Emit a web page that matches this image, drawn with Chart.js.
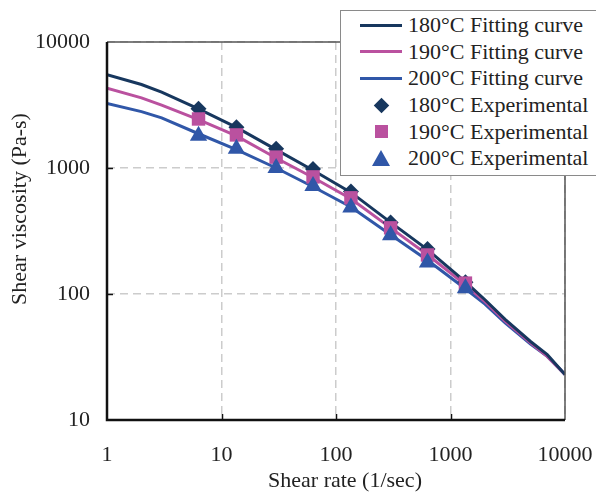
<!DOCTYPE html>
<html>
<head>
<meta charset="utf-8">
<script src="https://cdn.jsdelivr.net/npm/chart.js@4.4.1/dist/chart.umd.min.js"></script>
<style>
  html, body { margin: 0; padding: 0; background: #fff; }
  #wrap { position: relative; width: 596px; height: 495px; overflow: hidden; }
  #legend {
    position: absolute; left: 340px; top: 10px; width: 280px; height: 166px;
    box-sizing: border-box; background: #fff; border: 1.5px solid #8a8a8a;
    font-family: "Liberation Serif"; font-size: 22px; color: #222; padding-top: 1px;
  }
  .row { height: 26.6px; display: flex; align-items: center; white-space: nowrap; }
  .sym { width: 42px; margin-left: 19px; margin-right: 6px; display: flex; justify-content: center; align-items: center; }
  .line { width: 42px; height: 3px; }
  .diamond { width: 11px; height: 11px; transform: rotate(45deg); }
  .square { width: 13px; height: 13px; }
  .triangle { width: 0; height: 0; border-left: 9px solid transparent; border-right: 9px solid transparent; }
</style>
</head>
<body>
<div id="wrap">
  <canvas id="viscosityChart" width="596" height="495"></canvas>
  <div id="legend"></div>
</div>
<script>
const fitShearRate = [1, 2, 3, 6.3, 13.5, 30, 63, 135, 300, 630, 1350, 2000, 3000, 5000, 7000, 10000];
const fit180 = [5500, 4600, 4000, 2950, 2100, 1400, 960, 640, 370, 225, 125, 90, 63, 42, 33, 23];
const fit190 = [4300, 3600, 3150, 2420, 1800, 1200, 840, 570, 335, 205, 118, 87, 61, 41, 32, 23];
const fit200 = [3250, 2800, 2500, 1870, 1400, 1000, 710, 490, 295, 185, 110, 83, 59, 40, 32, 23];

const expShearRate = [6.3, 13.5, 30, 63, 135, 300, 630, 1350];
const exp180 = [2950, 2110, 1420, 980, 650, 370, 228, 124];
const exp190 = [2450, 1830, 1220, 850, 580, 335, 204, 122];
const exp200 = [1800, 1420, 1000, 720, 485, 292, 178, 111];

const xTicks = [1, 10, 100, 1000, 10000];
const yTicks = [10, 100, 1000, 10000];

const colors = { c180: "#17375e", c190: "#ba519f", c200: "#3057a8" };

function toPoints(xs, ys) {
  return xs.map((x, i) => ({ x: x, y: ys[i] }));
}

function fitDataset(label, ys, color) {
  return {
    label: label,
    data: toPoints(fitShearRate, ys),
    borderColor: color,
    backgroundColor: color,
    borderWidth: 3,
    pointRadius: 0,
    tension: 0,
    order: 10,
    kind: "line"
  };
}

function expDataset(label, ys, color, style, radius, order) {
  return {
    label: label,
    data: toPoints(expShearRate, ys),
    showLine: false,
    borderColor: color,
    backgroundColor: color,
    borderWidth: 0,
    pointStyle: style,
    pointRadius: radius,
    order: order,
    kind: style
  };
}

const framePlugin = {
  id: "frame",
  afterDatasetsDraw(chart) {
    const { ctx, chartArea: a, scales } = chart;
    ctx.save();
    ctx.strokeStyle = "#111";
    ctx.lineWidth = 1.5;
    xTicks.slice(1, -1).forEach((v) => {
      const px = Math.round(scales.x.getPixelForValue(v)) + 0.5;
      ctx.beginPath(); ctx.moveTo(px, a.bottom); ctx.lineTo(px, a.bottom - 6); ctx.stroke();
    });
    yTicks.slice(1, -1).forEach((v) => {
      const py = Math.round(scales.y.getPixelForValue(v)) + 0.5;
      ctx.beginPath(); ctx.moveTo(a.left, py); ctx.lineTo(a.left + 6, py); ctx.stroke();
    });
    ctx.strokeStyle = "#555";
    ctx.lineWidth = 1.5;
    ctx.beginPath();
    ctx.moveTo(a.left, a.top); ctx.lineTo(a.right, a.top); ctx.lineTo(a.right, a.bottom);
    ctx.stroke();
    ctx.strokeStyle = "#111";
    ctx.lineWidth = 2.5;
    ctx.beginPath();
    ctx.moveTo(a.left, a.top); ctx.lineTo(a.left, a.bottom); ctx.lineTo(a.right, a.bottom);
    ctx.stroke();
    ctx.restore();
  },
  afterDraw(chart) {
    const { ctx } = chart;
    ctx.save();
    ctx.fillStyle = "#222";
    ctx.font = "22px 'Liberation Serif'";
    ctx.textAlign = "center";
    ctx.textBaseline = "middle";
    ctx.fillText("Shear rate (1/sec)", 345, 481);
    ctx.translate(20, 209);
    ctx.rotate(-Math.PI / 2);
    ctx.fillText("Shear viscosity (Pa-s)", 0, 0);
    ctx.restore();
  }
};

function renderLegend(chart) {
  const legend = document.querySelector("#legend");
  legend.innerHTML = chart.data.datasets.map((ds) => {
    let mark = "";
    if (ds.kind === "line") {
      mark = `<span class="line" style="background:${ds.borderColor}"></span>`;
    } else if (ds.kind === "rectRot") {
      mark = `<span class="diamond" style="background:${ds.backgroundColor}"></span>`;
    } else if (ds.kind === "rect") {
      mark = `<span class="square" style="background:${ds.backgroundColor}"></span>`;
    } else {
      mark = `<span class="triangle" style="border-bottom:16px solid ${ds.backgroundColor}"></span>`;
    }
    return `<div class="row"><span class="sym">${mark}</span><span>${ds.label}</span></div>`;
  }).join("");
}

Chart.defaults.font.family = "'Liberation Serif'";
Chart.defaults.font.size = 22;
Chart.defaults.color = "#222";

const chart = new Chart(document.querySelector("#viscosityChart"), {
  type: "line",
  data: {
    datasets: [
      fitDataset("180°C Fitting curve", fit180, colors.c180),
      fitDataset("190°C Fitting curve", fit190, colors.c190),
      fitDataset("200°C Fitting curve", fit200, colors.c200),
      expDataset("180°C Experimental", exp180, colors.c180, "rectRot", 8, 3),
      expDataset("190°C Experimental", exp190, colors.c190, "rect", 9.5, 2),
      expDataset("200°C Experimental", exp200, colors.c200, "triangle", 10, 1)
    ]
  },
  options: {
    responsive: false,
    animation: false,
    layout: { padding: { top: 42, right: 31, left: 0, bottom: 0 } },
    scales: {
      x: {
        type: "logarithmic",
        min: 1,
        max: 10000,
        afterBuildTicks: (scale) => { scale.ticks = xTicks.map((v) => ({ value: v })); },
        afterFit: (scale) => {
          scale.height = 75;
          scale.paddingLeft = 0;
          scale.paddingRight = 0;
        },
        ticks: {
          autoSkip: false,
          maxRotation: 0,
          padding: 22,
          callback: (v) => String(v)
        },
        grid: { color: "#cccccc", lineWidth: 1.5, drawTicks: false },
        border: { display: false, dash: [8, 5] }
      },
      y: {
        type: "logarithmic",
        min: 10,
        max: 10000,
        afterBuildTicks: (scale) => { scale.ticks = yTicks.map((v) => ({ value: v })); },
        afterFit: (scale) => {
          scale.width = 107;
          scale.paddingTop = 0;
          scale.paddingBottom = 0;
        },
        ticks: {
          autoSkip: false,
          padding: 17,
          callback: (v) => String(v)
        },
        grid: { color: "#cccccc", lineWidth: 1.5, drawTicks: false },
        border: { display: false, dash: [8, 5] }
      }
    },
    plugins: {
      legend: { display: false },
      tooltip: { enabled: false }
    }
  },
  plugins: [framePlugin]
});

renderLegend(chart);
</script>
</body>
</html>
